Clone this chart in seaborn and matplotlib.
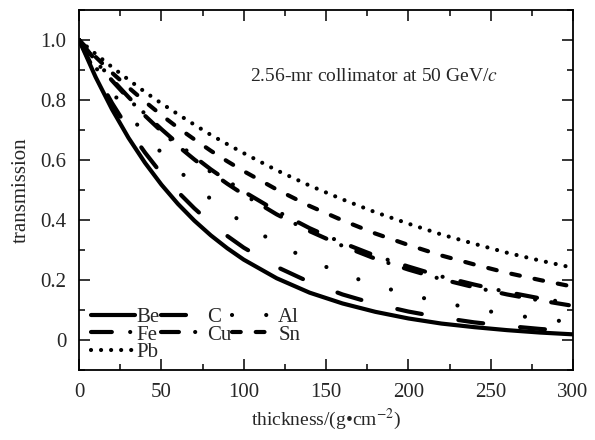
import numpy as np
import pandas as pd
import matplotlib
matplotlib.use("Agg")
import matplotlib.pyplot as plt
import seaborn as sns
from matplotlib.ticker import MultipleLocator

# thickness in g/cm^2, transmission
thickness = [0, 10, 20, 30, 40, 50, 60, 70, 80, 90, 100,
             120, 140, 160, 180, 200, 220, 240, 260, 280, 300]
be = [1.0, 0.877, 0.769, 0.674, 0.591, 0.518, 0.454, 0.398, 0.349, 0.306, 0.268,
      0.206, 0.158, 0.122, 0.094, 0.072, 0.055, 0.043, 0.033, 0.025, 0.019]
c = [1.0, 0.889, 0.790, 0.703, 0.625, 0.555, 0.494, 0.439, 0.390, 0.347, 0.308,
     0.244, 0.193, 0.152, 0.120, 0.095, 0.075, 0.059, 0.047, 0.037, 0.029]
al = [1.0, 0.910, 0.828, 0.754, 0.686, 0.624, 0.568, 0.517, 0.470, 0.428, 0.389,
      0.322, 0.267, 0.221, 0.183, 0.152, 0.126, 0.104, 0.086, 0.071, 0.059]
fe = [1.0, 0.932, 0.869, 0.810, 0.754, 0.703, 0.655, 0.611, 0.569, 0.531, 0.495,
      0.430, 0.373, 0.324, 0.281, 0.245, 0.212, 0.185, 0.160, 0.139, 0.121]
cu = [1.0, 0.930, 0.865, 0.805, 0.748, 0.696, 0.647, 0.602, 0.560, 0.521, 0.485,
      0.419, 0.363, 0.314, 0.271, 0.235, 0.203, 0.176, 0.152, 0.132, 0.114]
sn = [1.0, 0.944, 0.891, 0.842, 0.795, 0.750, 0.708, 0.669, 0.631, 0.596, 0.563,
      0.502, 0.447, 0.399, 0.355, 0.317, 0.282, 0.252, 0.224, 0.200, 0.178]
pb = [1.0, 0.954, 0.910, 0.868, 0.827, 0.789, 0.753, 0.718, 0.684, 0.653, 0.623,
      0.566, 0.515, 0.469, 0.426, 0.388, 0.352, 0.321, 0.291, 0.265, 0.241]

materials = ["Be", "C", "Al", "Fe", "Cu", "Sn", "Pb"]
series = [be, c, al, fe, cu, sn, pb]

# line styles (in units of line width)
styles = {
    "Be": "-",
    "C": (0, (6, 8.9)),
    "Al": (0, (0.01, 8.2)),
    "Fe": (0, (5, 4.4, 0.01, 4.4)),
    "Cu": (0, (4.3, 3.9, 0.01, 3.9)),
    "Sn": (0, (2.1, 3.6)),
    "Pb": (0, (0.01, 2.4)),
}

df = pd.concat([
    pd.DataFrame({"thickness": thickness, "transmission": vals, "material": m})
    for m, vals in zip(materials, series)
])

sns.set_theme(style="ticks")
plt.rcParams["font.family"] = ["Liberation Serif", "DejaVu Serif"]
plt.rcParams["mathtext.fontset"] = "stix"
plt.rcParams["font.size"] = 14

fig = plt.figure(figsize=(5.95, 4.4), dpi=100)
ax = fig.add_axes([0.133, 0.159, 0.83, 0.818])

for m in materials:
    sns.lineplot(data=df[df["material"] == m], x="thickness", y="transmission",
                 ax=ax, color="black", lw=3, linestyle=styles[m],
                 dash_capstyle="round", label=m, legend=False)

ax.set_xlim(0, 300)
ax.set_ylim(-0.1, 1.1)
ax.set_xticks([0, 50, 100, 150, 200, 250, 300])
ax.set_xticklabels(["0", "50", "100", "150", "200", "250", "300"])
ax.set_yticks([0, 0.2, 0.4, 0.6, 0.8, 1.0])
ax.set_yticklabels(["0", "0.2", "0.4", "0.6", "0.8", "1.0"])
ax.xaxis.set_minor_locator(MultipleLocator(25))
ax.yaxis.set_minor_locator(MultipleLocator(0.1))
ax.tick_params(which="both", direction="in", top=True, right=True,
               labelsize=15, color="black", width=1.1)
ax.tick_params(which="major", length=8, pad=9)
ax.tick_params(which="minor", length=4)
for s in ax.spines.values():
    s.set_linewidth(1.3)
    s.set_color("black")

ax.set_xlabel("thickness/(g•cm$^{-2}$)", fontsize=14, labelpad=4)
ax.set_ylabel("transmission", fontsize=15, labelpad=7)

ax.text(104, 0.88, "2.56-mr collimator at 50 GeV/$c$", fontsize=14, va="center")

handles, labels = ax.get_legend_handles_labels()
lookup = dict(zip(labels, handles))
order = ["Be", "Fe", "Pb", "C", "Cu", "Al", "Sn"]
ax.legend([lookup[k] for k in order], order, ncol=3, loc="lower left",
          bbox_to_anchor=(0.024, 0.022), frameon=False, borderpad=0,
          borderaxespad=0, handlelength=2.1, handletextpad=0.1,
          columnspacing=0.05, labelspacing=-0.1, fontsize=15)

plt.savefig("out.png", dpi=100)
